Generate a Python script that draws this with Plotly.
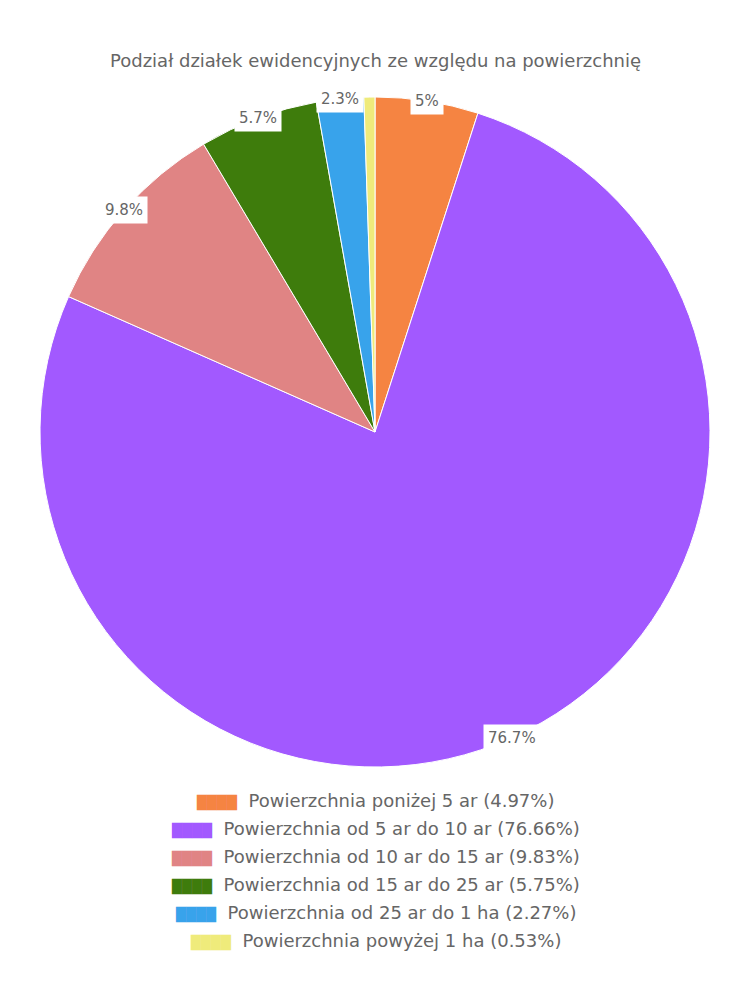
import math
import plotly.graph_objects as go

categories = [
    "Powierzchnia poniżej 5 ar",
    "Powierzchnia od 5 ar do 10 ar",
    "Powierzchnia od 10 ar do 15 ar",
    "Powierzchnia od 15 ar do 25 ar",
    "Powierzchnia od 25 ar do 1 ha",
    "Powierzchnia powyżej 1 ha",
]
percent_values = [4.97, 76.66, 9.83, 5.75, 2.27, 0.53]
slice_labels = ["5%", "76.7%", "9.8%", "5.7%", "2.3%", ""]
colors = ["#f58442", "#a259ff", "#e08484", "#3e7c0c", "#38a3eb", "#efeb7b"]
title_text = "Podział działek ewidencyjnych ze względu na powierzchnię"

W, H = 750, 1000
FONT = "DejaVu Sans"
cx_px, cy_px, r_px = 375, 432, 335
dom_x = [(cx_px - r_px) / W, (cx_px + r_px) / W]
dom_y = [1 - (cy_px + r_px) / H, 1 - (cy_px - r_px) / H]

fig = go.Figure(go.Pie(
    labels=categories,
    values=percent_values,
    sort=False,
    direction="clockwise",
    rotation=0,
    marker=dict(colors=colors, line=dict(color="white", width=1)),
    textinfo="none",
    hoverinfo="label+percent",
    domain=dict(x=dom_x, y=dom_y),
    showlegend=False,
))

annotations = []
# slice labels at outer edge, mid-angle of each slice
total = sum(percent_values)
cum = 0.0
for v, lab in zip(percent_values, slice_labels):
    mid = (cum + v / 2) / total * 2 * math.pi
    cum += v
    if not lab:
        continue
    x = (cx_px + r_px * math.sin(mid)) / W
    y = 1 - (cy_px - r_px * math.cos(mid)) / H
    annotations.append(dict(
        x=x, y=y, xref="paper", yref="paper", text=lab, showarrow=False,
        xanchor="center", yanchor="middle",
        font=dict(family=FONT, size=15, color="#666666"),
        bgcolor="white", borderpad=4,
    ))

# title
annotations.append(dict(
    x=0.5, y=1 - 60 / H, xref="paper", yref="paper", text=title_text,
    showarrow=False, xanchor="center", yanchor="middle",
    font=dict(family=FONT, size=18, color="#666666"),
))

# centered legend rows
for i, (cat, v, c) in enumerate(zip(categories, percent_values, colors)):
    y = 1 - (800 + 28 * i) / H
    txt = (f"<span style='font-family:DejaVu Sans;font-size:13px;color:{c}'>████</span>"
           f"  {cat} ({v:.2f}%)")
    annotations.append(dict(
        x=0.5, y=y, xref="paper", yref="paper", text=txt, showarrow=False,
        xanchor="center", yanchor="middle",
        font=dict(family=FONT, size=18, color="#666666"),
    ))

fig.update_layout(
    width=W, height=H,
    margin=dict(l=0, r=0, t=0, b=0),
    paper_bgcolor="white",
    annotations=annotations,
)

fig.write_html("out.html")
